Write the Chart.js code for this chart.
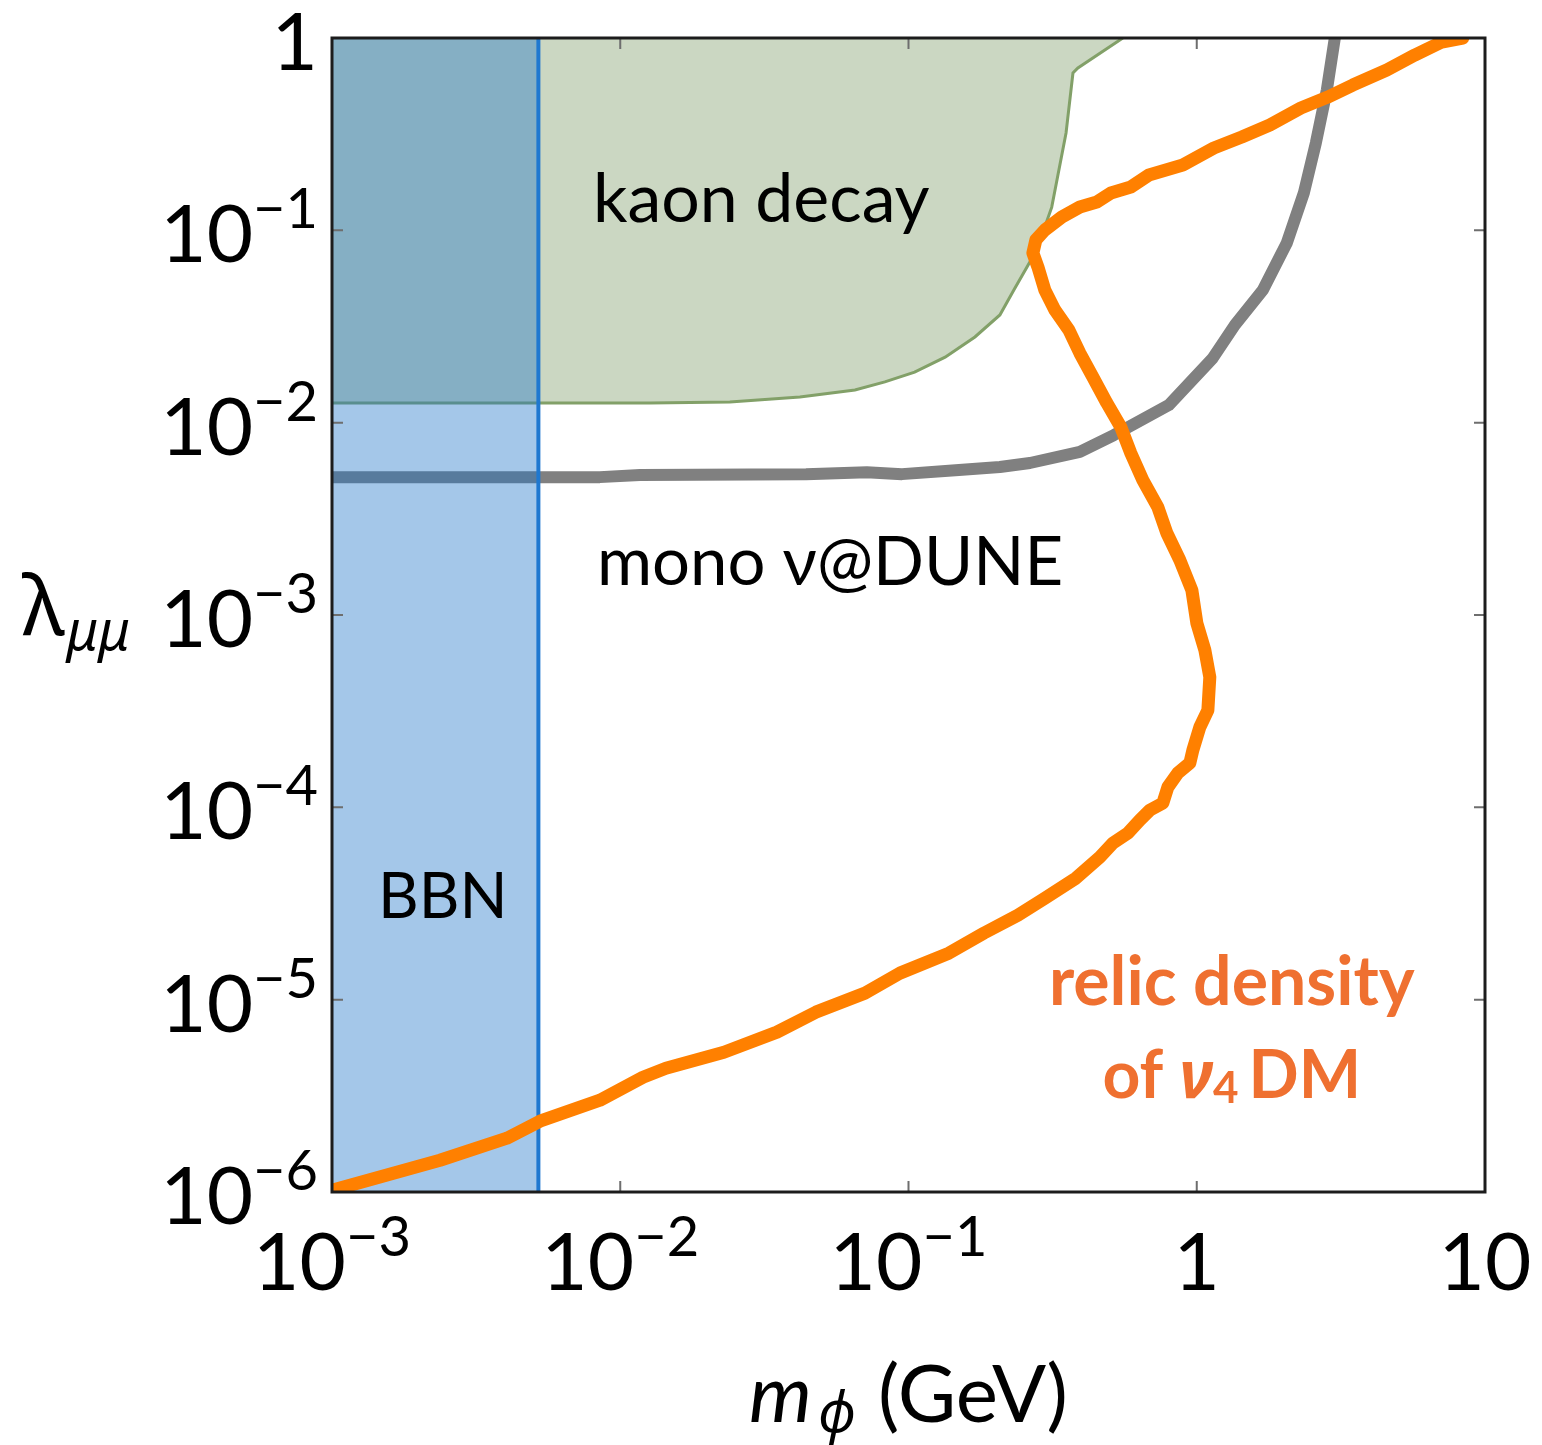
<!DOCTYPE html>
<html>
<head>
<meta charset="utf-8">
<script src="https://cdn.jsdelivr.net/npm/chart.js@4.4.1/dist/chart.umd.min.js"></script>
<style>
  html, body { margin: 0; padding: 0; background: #fff; }
  #wrap { width: 1542px; height: 1445px; }
</style>
</head>
<body>
<div id="wrap"><canvas id="limitChart" width="1542" height="1445"></canvas></div>
<script>
// axes: m_phi in GeV (x), lambda_mumu (y), both log
const xTicks = [1e-3, 1e-2, 1e-1, 1, 10];
const xTickLabels = [['10', '−3'], ['10', '−2'], ['10', '−1'], ['1', ''], ['10', '']];
const yTicks = [1e-6, 1e-5, 1e-4, 1e-3, 1e-2, 1e-1, 1];
const yTickLabels = [['10', '−6'], ['10', '−5'], ['10', '−4'], ['10', '−3'], ['10', '−2'], ['10', '−1'], ['1', '']];

// BBN excluded band (m_phi below ~5 MeV)
const bbnMass = [0.001, 0.0052];
const bbnLambda = [1, 1];
const bbnEdge = 0.0052;

// kaon decay bound (excluded above)
const kaonMass = [0.001, 0.0127, 0.0240, 0.0420, 0.0652, 0.0828, 0.105, 0.134, 0.170, 0.2075,
  0.232, 0.266, 0.297, 0.314, 0.352, 0.372, 0.387, 0.554];
const kaonLambda = [0.01265, 0.01265, 0.0128, 0.0136, 0.0148, 0.0163, 0.0183, 0.0219, 0.0279, 0.0363,
  0.0489, 0.0701, 0.104, 0.132, 0.321, 0.658, 0.698, 1.0];

// mono-neutrino sensitivity at DUNE
const duneMass = [0.001, 0.0085, 0.0117, 0.0441, 0.0717, 0.0949, 0.1496, 0.2075, 0.2637, 0.393,
  0.516, 0.800, 1.137, 1.356, 1.696, 2.053, 2.352, 2.589, 2.827, 3.013];
const duneLambda = [0.00521, 0.00521, 0.00534, 0.0054, 0.00553, 0.0054, 0.00567, 0.00588, 0.00617, 0.00704,
  0.00862, 0.01235, 0.02168, 0.0322, 0.0489, 0.0859, 0.1563, 0.2844, 0.5366, 1.0];

// relic density contour for nu_4 dark matter
const relicMass = [0.001, 0.002369, 0.004046, 0.005265, 0.008505, 0.01199, 0.0144, 0.02289, 0.03496, 0.0477,
  0.07062, 0.0934, 0.138, 0.1826, 0.2395, 0.2972, 0.3808, 0.4612, 0.5117, 0.5768,
  0.6346, 0.6877, 0.7627, 0.794, 0.86, 0.9462, 0.9694, 1.025, 1.093, 1.110,
  1.067, 1.0007, 0.9616, 0.8736, 0.7876, 0.7327, 0.6501, 0.5905, 0.5453, 0.4877,
  0.4362, 0.393, 0.360, 0.322, 0.2972, 0.2811, 0.2701, 0.2766, 0.2972, 0.3404,
  0.393, 0.4502, 0.5036, 0.5905, 0.6823, 0.8948, 1.1463, 1.4334, 1.793, 2.297,
  2.849, 3.478, 4.564, 5.706, 7.084, 8.375];
const relicLambda = [1.02e-6, 1.463e-6, 1.905e-6, 2.334e-6, 3.0e-6, 3.95e-6, 4.40e-6, 5.33e-6, 6.78e-6, 8.61e-6,
  1.081e-5, 1.374e-5, 1.745e-5, 2.218e-5, 2.75e-5, 3.37e-5, 4.28e-5, 5.51e-5, 6.52e-5, 7.34e-5,
  8.58e-5, 9.67e-5, 1.052e-4, 1.274e-4, 1.507e-4, 1.698e-4, 1.984e-4, 2.612e-4, 3.20e-4, 4.75e-4,
  6.57e-4, 9.08e-4, 1.348e-3, 1.930e-3, 2.667e-3, 3.64e-3, 5.03e-3, 6.95e-3, 9.48e-3, 0.01264,
  0.01726, 0.02301, 0.0303, 0.0385, 0.0489, 0.0645, 0.0762, 0.0891, 0.1004, 0.1173,
  0.1322, 0.1404, 0.1563, 0.168, 0.1939, 0.2186, 0.2679, 0.3056, 0.3528, 0.4325,
  0.4933, 0.5695, 0.6817, 0.8156, 0.9532, 1.0];

const toPoints = (xs, ys) => xs.map((v, i) => ({ x: v, y: ys[i] }));

const SANS = 'Lato, "Noto Sans", sans-serif';
const GREEK = '"Noto Sans", "DejaVu Sans", sans-serif';

// draws a list of text runs in a row; each run can have its own font and vertical shift
function drawRuns(ctx, runs, x, y, align) {
  let total = 0;
  runs.forEach(r => {
    ctx.font = r.font;
    r.w = ctx.measureText(r.text).width + (r.gap || 0);
    total += r.w;
  });
  let cx = x;
  if (align === 'center') cx = x - total / 2;
  else if (align === 'right') cx = x - total;
  ctx.textAlign = 'left';
  ctx.textBaseline = 'alphabetic';
  runs.forEach(r => {
    ctx.font = r.font;
    ctx.fillStyle = r.color || '#000';
    ctx.fillText(r.text, cx, y + (r.dy || 0));
    cx += r.w;
  });
}

function powerRuns(lbl) {
  const runs = [{ text: lbl[0], font: '80px ' + SANS }];
  if (lbl[1]) runs.push({ text: lbl[1], font: '56px ' + SANS, dy: -34 });
  return runs;
}

const limitPlot = {
  id: 'limitPlot',
  afterDatasetsDraw(chart) {
    const { ctx, chartArea: a, scales: { x, y } } = chart;
    ctx.save();

    // inward tick marks on all four sides
    ctx.strokeStyle = '#6e6e6e';
    ctx.lineWidth = 2;
    ctx.beginPath();
    xTicks.forEach(v => {
      const px = x.getPixelForValue(v);
      ctx.moveTo(px, a.bottom); ctx.lineTo(px, a.bottom - 11);
      ctx.moveTo(px, a.top); ctx.lineTo(px, a.top + 11);
    });
    yTicks.forEach(v => {
      const py = y.getPixelForValue(v);
      ctx.moveTo(a.left, py); ctx.lineTo(a.left + 11, py);
      ctx.moveTo(a.right, py); ctx.lineTo(a.right - 11, py);
    });
    ctx.stroke();

    // frame
    ctx.strokeStyle = '#1c1c1c';
    ctx.lineWidth = 3;
    ctx.strokeRect(a.left, a.top, a.right - a.left, a.bottom - a.top);

    // tick labels
    xTicks.forEach((v, i) => {
      drawRuns(ctx, powerRuns(xTickLabels[i]), x.getPixelForValue(v), a.bottom + 98, 'center');
    });
    yTicks.forEach((v, i) => {
      drawRuns(ctx, powerRuns(yTickLabels[i]), a.left - 14, y.getPixelForValue(v) + 32, 'right');
    });

    // region labels
    drawRuns(ctx, [{ text: 'kaon decay', font: '68px ' + SANS }],
      x.getPixelForValue(0.00804), y.getPixelForValue(0.1105), 'left');
    drawRuns(ctx, [{ text: 'mono ν@DUNE', font: '67px ' + SANS }],
      x.getPixelForValue(0.0083), y.getPixelForValue(1.43e-3), 'left');
    drawRuns(ctx, [{ text: 'BBN', font: '63px ' + SANS }],
      x.getPixelForValue(1.444e-3), y.getPixelForValue(2.65e-5), 'left');

    const orange = '#ef7030';
    const cx = x.getPixelForValue(1.323);
    drawRuns(ctx, [{ text: 'relic density', font: 'bold 68px ' + SANS, color: orange }],
      cx, y.getPixelForValue(9.36e-6), 'center');
    drawRuns(ctx, [
      { text: 'of ', font: 'bold 66px ' + SANS, color: orange },
      { text: 'ν', font: 'italic bold 66px ' + GREEK, color: orange },
      { text: '4', font: 'bold 44px ' + SANS, color: orange, dy: 5, gap: 10 },
      { text: 'DM', font: 'bold 66px ' + SANS, color: orange }
    ], cx, y.getPixelForValue(3.07e-6), 'center');

    // axis titles
    drawRuns(ctx, [
      { text: 'm', font: 'italic 80px ' + SANS, gap: 6 },
      { text: 'ϕ', font: 'italic 56px ' + GREEK, dy: 10, gap: 22 },
      { text: '(GeV)', font: '80px ' + SANS }
    ], x.getPixelForValue(0.1), 1422, 'center');
    drawRuns(ctx, [
      { text: 'λ', font: '82px ' + GREEK, gap: 2 },
      { text: 'μμ', font: 'italic 54px ' + GREEK, dy: 15 }
    ], 22, y.getPixelForValue(1e-3) + 20, 'left');

    ctx.restore();
  }
};

new Chart(document.getElementById('limitChart'), {
  type: 'scatter',
  data: {
    datasets: [
      {
        label: 'relic density',
        data: toPoints(relicMass, relicLambda),
        showLine: true,
        borderColor: '#ff8000',
        borderWidth: 13,
        borderJoinStyle: 'round',
        borderCapStyle: 'round',
        pointRadius: 0,
        fill: false,
        clip: 0,
        order: 0
      },
      {
        label: 'BBN edge',
        data: [{ x: bbnEdge, y: 1e-6 }, { x: bbnEdge, y: 1 }],
        showLine: true,
        borderColor: '#1f78d0',
        borderWidth: 4,
        pointRadius: 0,
        fill: false,
        clip: 0,
        order: 1
      },
      {
        label: 'BBN',
        data: toPoints(bbnMass, bbnLambda),
        showLine: true,
        borderColor: 'rgba(0,0,0,0)',
        borderWidth: 0,
        backgroundColor: 'rgba(28,115,200,0.4)',
        pointRadius: 0,
        fill: 'start',
        clip: 0,
        order: 2
      },
      {
        label: 'mono nu @ DUNE',
        data: toPoints(duneMass, duneLambda),
        showLine: true,
        borderColor: '#808080',
        borderWidth: 12,
        borderJoinStyle: 'round',
        pointRadius: 0,
        fill: false,
        clip: 0,
        order: 3
      },
      {
        label: 'kaon decay',
        data: toPoints(kaonMass, kaonLambda),
        showLine: true,
        borderColor: '#82a068',
        borderWidth: 3,
        backgroundColor: '#cbd7c2',
        pointRadius: 0,
        fill: 'end',
        clip: 0,
        order: 4
      }
    ]
  },
  options: {
    responsive: false,
    animation: false,
    layout: { padding: { top: 38, right: 57, bottom: 0, left: 0 } },
    plugins: { legend: { display: false }, tooltip: { enabled: false } },
    scales: {
      x: {
        type: 'logarithmic',
        min: 1e-3,
        max: 10,
        grid: { display: false },
        border: { display: false },
        ticks: { display: false },
        afterFit: s => { s.height = 253; }
      },
      y: {
        type: 'logarithmic',
        min: 1e-6,
        max: 1,
        grid: { display: false },
        border: { display: false },
        ticks: { display: false },
        afterFit: s => { s.width = 332; }
      }
    }
  },
  plugins: [limitPlot]
});
</script>
</body>
</html>
